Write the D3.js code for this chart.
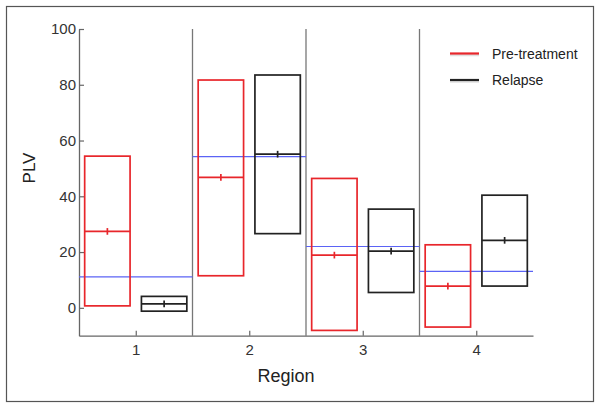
<!DOCTYPE html>
<html><head><meta charset="utf-8">
<script src="https://cdn.jsdelivr.net/npm/d3@7"></script>
<style>body{margin:0;background:#fff}svg{display:block}text{font-family:"Liberation Sans",Arial,sans-serif}</style>
</head><body>
<script>
const regions = [1, 2, 3, 4];
const seriesNames = ["Pre-treatment", "Relapse"];
const seriesColors = ["#e8262b", "#222222"];
const preTop = [54.4, 81.7, 46.4, 22.6];
const preBottom = [0.7, 11.5, -8.1, -6.9];
const preMean = [27.4, 46.8, 18.9, 7.8];
const preErr = [1.2, 1.2, 1.2, 1.2];
const relTop = [4.1, 83.5, 35.4, 40.4];
const relBottom = [-1.2, 26.6, 5.5, 7.8];
const relMean = [1.4, 55.1, 20.3, 24.2];
const relErr = [1.2, 1.2, 1.2, 1.2];
const baseline = [11.1, 54.2, 22.0, 13.1];
const yTicks = [0, 20, 40, 60, 80, 100];

const W = 600, H = 408;
const svg = d3.select("body").append("svg").attr("width", W).attr("height", H);

svg.append("rect").attr("x", 6.5).attr("y", 6.5).attr("width", 587).attr("height", 395)
  .attr("fill", "none").attr("stroke", "#555").attr("stroke-width", 1.2);

const x = d3.scaleLinear().domain([0.5, 4.5]).range([79, 533]);
const y = d3.scaleLinear().domain([-10, 100]).range([335.7, 29]);

// separators
svg.selectAll(".sep").data([1.5, 2.5, 3.5]).enter().append("line")
  .attr("x1", d => x(d)).attr("x2", d => x(d)).attr("y1", y(100)).attr("y2", y(-10))
  .attr("stroke", "#777").attr("stroke-width", 1.3);

// axes
const yAxis = d3.axisLeft(y).tickValues(yTicks).tickFormat(d3.format("d")).tickSizeInner(-5).tickSizeOuter(0).tickPadding(4);
const gy = svg.append("g").attr("transform", `translate(${x(0.5)},0)`).call(yAxis);
const xAxis = d3.axisBottom(x).tickValues(regions).tickFormat(d3.format("d")).tickSizeInner(-5).tickSizeOuter(0).tickPadding(9);
const gx = svg.append("g").attr("transform", `translate(0,${y(-10)})`).call(xAxis);
[gy, gx].forEach(g => {
  g.select(".domain").attr("stroke", "#666").attr("stroke-width", 1.3);
  g.selectAll(".tick line").attr("stroke", "#666").attr("stroke-width", 1.2);
  g.selectAll(".tick text").attr("fill", "#333").attr("font-size", 15).attr("font-family", "Liberation Sans, Arial, sans-serif");
});
gy.selectAll(".tick text").attr("dx", 1);

// baselines (blue)
svg.selectAll(".base").data(regions).enter().append("line")
  .attr("x1", d => x(d - 0.5)).attr("x2", d => x(d + 0.5))
  .attr("y1", (d, i) => y(baseline[i])).attr("y2", (d, i) => y(baseline[i]))
  .attr("stroke", "#5b63f5").attr("stroke-width", 1.2);

const series = [
  {top: preTop, bot: preBottom, mean: preMean, err: preErr, off: -0.25, color: seriesColors[0]},
  {top: relTop, bot: relBottom, mean: relMean, err: relErr, off: 0.25, color: seriesColors[1]}
];
const halfW = 0.2;
series.forEach(s => {
  const g = svg.append("g");
  regions.forEach((r, i) => {
    const cx = r + s.off;
    g.append("rect").attr("x", x(cx - halfW)).attr("width", x(cx + halfW) - x(cx - halfW))
      .attr("y", y(s.top[i])).attr("height", y(s.bot[i]) - y(s.top[i]))
      .attr("fill", "none").attr("stroke", s.color).attr("stroke-width", 1.7);
    g.append("line").attr("x1", x(cx - halfW)).attr("x2", x(cx + halfW))
      .attr("y1", y(s.mean[i])).attr("y2", y(s.mean[i]))
      .attr("stroke", s.color).attr("stroke-width", 1.7);
    g.append("line").attr("x1", x(cx)).attr("x2", x(cx))
      .attr("y1", y(s.mean[i] + s.err[i])).attr("y2", y(s.mean[i] - s.err[i]))
      .attr("stroke", s.color).attr("stroke-width", 1.7);
  });
});

// labels
svg.append("text").attr("x", 286).attr("y", 382).attr("text-anchor", "middle")
  .attr("font-size", 18).attr("fill", "#222").text("Region");
svg.append("text").attr("transform", "translate(35,168) rotate(-90)").attr("text-anchor", "middle")
  .attr("font-size", 17).attr("fill", "#222").text("PLV");

// legend
const leg = svg.append("g");
seriesNames.forEach((n, i) => {
  const ly = 53.5 + i * 26.5;
  leg.append("line").attr("x1", 450).attr("x2", 479).attr("y1", ly + 1.5).attr("y2", ly + 1.5)
    .attr("stroke", "#ccc").attr("stroke-width", 2.5).attr("opacity", 0.6);
  leg.append("line").attr("x1", 450).attr("x2", 479).attr("y1", ly).attr("y2", ly)
    .attr("stroke", seriesColors[i]).attr("stroke-width", 2.2);
  leg.append("text").attr("x", 492).attr("y", ly + 5).attr("font-size", 14).attr("fill", "#222").text(n);
});
</script>
</body></html>
